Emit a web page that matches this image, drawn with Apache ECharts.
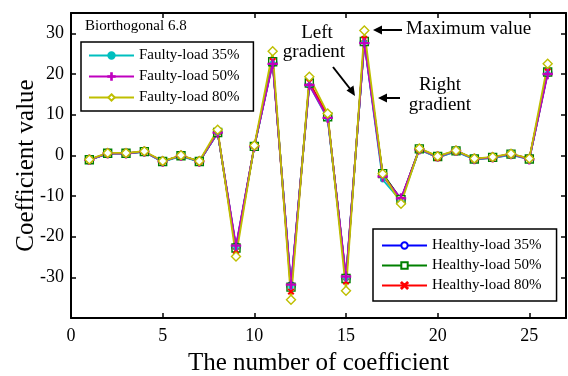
<!DOCTYPE html>
<html>
<head>
<meta charset="utf-8">
<script src="https://cdn.jsdelivr.net/npm/echarts@6/dist/echarts.min.js"></script>
<style>
html,body{margin:0;padding:0;background:#fff;}
#c{width:568px;height:376px;}
</style>
</head>
<body>
<div id="c"></div>
<script>
var coefIndex = [1,2,3,4,5,6,7,8,9,10,11,12,13,14,15,16,17,18,19,20,21,22,23,24,25,26];
var healthy35 = [-1.1,0.5,0.5,0.9,-1.5,-0.1,-1.5,5.6,-22.6,2.2,22.9,-32.2,17.6,9.5,-30.2,27.9,-4.6,-10.8,1.6,-0.3,1.1,-0.9,-0.5,0.3,-0.9,20.4];
var healthy50 = [-1.1,0.5,0.5,0.9,-1.5,-0.1,-1.5,5.6,-22.8,2.2,23.0,-32.4,17.8,9.5,-30.3,28.0,-4.5,-10.9,1.6,-0.3,1.1,-0.9,-0.5,0.3,-0.9,20.5];
var healthy80 = [-1.1,0.5,0.5,0.9,-1.5,-0.1,-1.5,5.7,-23.5,2.3,23.2,-33.5,18.0,9.8,-31.0,28.6,-4.8,-11.0,1.5,-0.6,1.0,-0.9,-0.6,0.2,-0.7,20.6];
var faulty35 = [-1.2,0.4,0.5,0.8,-1.6,-0.2,-1.6,5.5,-22.7,2.1,22.7,-32.3,17.3,9.0,-30.3,27.8,-6.0,-11.2,1.4,-0.5,0.9,-1.0,-0.7,0.1,-1.0,20.2];
var faulty50 = [-1.1,0.5,0.5,0.9,-1.5,-0.1,-1.5,5.6,-22.2,2.2,22.5,-31.8,17.3,9.2,-29.8,27.6,-5.2,-10.6,1.5,-0.3,1.1,-0.9,-0.5,0.3,-1.0,20.0];
var faulty80 = [-1.0,0.6,0.6,1.0,-1.4,0.0,-1.4,6.3,-24.9,2.4,25.6,-35.5,19.3,10.3,-33.3,30.7,-4.5,-11.9,1.7,-0.2,1.2,-0.8,-0.4,0.4,-0.8,22.5];
var xTicks = [0,5,10,15,20,25];
var yTicks = [-30,-20,-10,0,10,20,30];

var FONT = '"Liberation Serif","Times New Roman",serif';

function pairs(vals){ return coefIndex.map(function(x,i){ return [x, vals[i]]; }); }

var plusPath = 'path://M-1,-10 L1,-10 L1,10 L-1,10 Z M-10,-1 L10,-1 L10,1 L-10,1 Z';
var xPath = 'path://M-8,-6.5 L-6.5,-8 L8,6.5 L6.5,8 Z M6.5,-8 L8,-6.5 L-6.5,8 L-8,6.5 Z';

function mk(name, vals, color, symbol, size, filled){
  return {
    name: name, type: 'line', data: pairs(vals),
    xAxisIndex: 0, yAxisIndex: 0,
    symbol: symbol, symbolSize: size, showSymbol: true,
    lineStyle: {color: color, width: 1.8},
    itemStyle: {color: filled ? color : '#fff', borderColor: color, borderWidth: 1.4},
    emphasis: {disabled: true},
    z: 2
  };
}

var series = [
  mk('Healthy-load 35%', healthy35, '#0000ff', 'circle', 8, false),
  mk('Healthy-load 50%', healthy50, '#008000', 'rect', 8, false),
  mk('Healthy-load 80%', healthy80, '#ff0000', xPath, 5, true),
  mk('Faulty-load 35%', faulty35, '#00bfbf', 'circle', 4, true),
  mk('Faulty-load 50%', faulty50, '#bf00bf', plusPath, 9, true),
  mk('Faulty-load 80%', faulty80, '#bfbf00', 'diamond', 9, false)
];

var axisLineStyle = {onZero: false, lineStyle: {color: '#000', width: 2}};
function tickFmt(list){ return function(v){ return list.indexOf(v) >= 0 ? String(v) : ''; }; }

var chart = echarts.init(document.getElementById('c'), null, {renderer: 'canvas'});
chart.setOption({
  animation: false,
  backgroundColor: '#fff',
  grid: {left: 71, top: 13, width: 495, height: 305, containLabel: false, outerBoundsMode: 'none'},
  xAxis: [
    {type: 'value', min: 0, max: 27, interval: 5, position: 'bottom',
     name: 'The number of coefficient', nameLocation: 'middle', nameGap: 33, nameMoveOverlap: false,
     nameTextStyle: {fontFamily: FONT, fontSize: 25, color: '#000'},
     axisLine: axisLineStyle, axisTick: {inside: true, length: 5, lineStyle: {color: '#000', width: 1.5}},
     axisLabel: {fontFamily: FONT, fontSize: 18, color: '#000', margin: 9, formatter: tickFmt(xTicks), showMaxLabel: false},
     splitLine: {show: false}},
    {type: 'value', min: 0, max: 27, interval: 5, position: 'top',
     axisLine: axisLineStyle, axisTick: {inside: true, length: 5, lineStyle: {color: '#000', width: 1.5}},
     axisLabel: {show: false}, splitLine: {show: false}}
  ],
  yAxis: [
    {type: 'value', min: -40, max: 35, interval: 10, position: 'left',
     name: 'Coefficient value', nameLocation: 'middle', nameGap: 32, nameMoveOverlap: false,
     nameTextStyle: {fontFamily: FONT, fontSize: 25, color: '#000'},
     axisLine: axisLineStyle, axisTick: {inside: true, length: 5, lineStyle: {color: '#000', width: 1.5}},
     axisLabel: {fontFamily: FONT, fontSize: 18, color: '#000', margin: 7, formatter: tickFmt(yTicks)},
     splitLine: {show: false}},
    {type: 'value', min: -40, max: 35, interval: 10, position: 'right',
     axisLine: axisLineStyle, axisTick: {inside: true, length: 5, lineStyle: {color: '#000', width: 1.5}},
     axisLabel: {show: false}, splitLine: {show: false}}
  ],
  legend: [
    {data: ['Faulty-load 35%','Faulty-load 50%','Faulty-load 80%'],
     orient: 'vertical', left: 81, top: 42,
     itemWidth: 45, itemHeight: 8, itemGap: 6,
     padding: [6, 14, 6, 7],
     borderColor: '#000', borderWidth: 1.5, backgroundColor: '#fff',
     textStyle: {fontFamily: FONT, fontSize: 15, color: '#000'},
     selectedMode: false},
    {data: ['Healthy-load 35%','Healthy-load 50%','Healthy-load 80%'],
     orient: 'vertical', left: 373, top: 229,
     itemWidth: 45, itemHeight: 8, itemGap: 5,
     padding: [9, 15, 8, 8],
     borderColor: '#000', borderWidth: 1.5, backgroundColor: '#fff',
     textStyle: {fontFamily: FONT, fontSize: 15, color: '#000'},
     selectedMode: false}
  ],
  graphic: [
    {type: 'text', left: 85, top: 19, style: {text: 'Biorthogonal 6.8', font: '15px ' + FONT, fill: '#000'}},
    {type: 'text', left: 406, top: 20, style: {text: 'Maximum value', font: '19px ' + FONT, fill: '#000'}},
    {type: 'text', x: 317, y: 33, style: {text: 'Left', font: '19px ' + FONT, fill: '#000', align: 'center', verticalAlign: 'middle'}},
    {type: 'text', x: 314, y: 52, style: {text: 'gradient', font: '19px ' + FONT, fill: '#000', align: 'center', verticalAlign: 'middle'}},
    {type: 'text', x: 440, y: 85, style: {text: 'Right', font: '19px ' + FONT, fill: '#000', align: 'center', verticalAlign: 'middle'}},
    {type: 'text', x: 440, y: 105, style: {text: 'gradient', font: '19px ' + FONT, fill: '#000', align: 'center', verticalAlign: 'middle'}},
    {type: 'line', shape: {x1: 402, y1: 30, x2: 380, y2: 30}, style: {stroke: '#000', lineWidth: 2}},
    {type: 'polygon', shape: {points: [[373,30],[382,25.5],[382,34.5]]}, style: {fill: '#000'}},
    {type: 'line', shape: {x1: 400, y1: 98, x2: 385, y2: 98}, style: {stroke: '#000', lineWidth: 2}},
    {type: 'polygon', shape: {points: [[378,98],[387,93.5],[387,102.5]]}, style: {fill: '#000'}},
    {type: 'line', shape: {x1: 333, y1: 67, x2: 351, y2: 90}, style: {stroke: '#000', lineWidth: 2}},
    {type: 'polygon', shape: {points: [[355,96],[346.5,90.5],[353.5,85.5]]}, style: {fill: '#000'}}
  ],
  series: series
});
</script>
</body>
</html>
